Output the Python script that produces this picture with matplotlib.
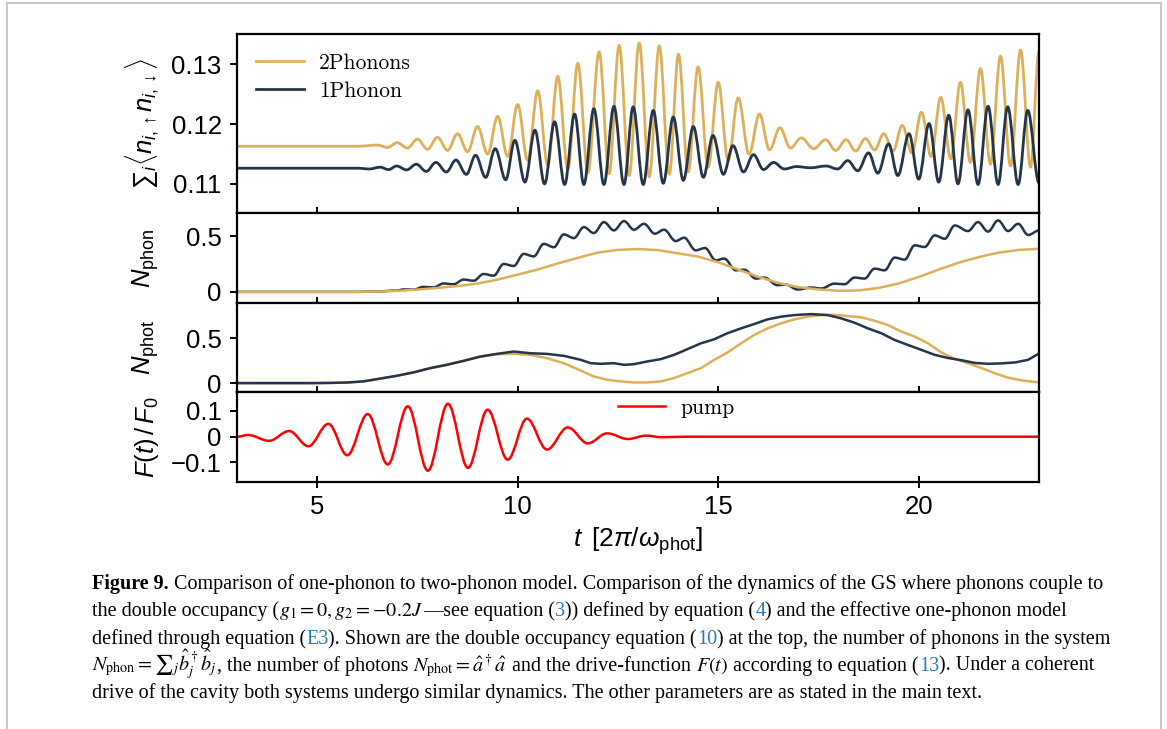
import matplotlib
matplotlib.use('agg')
import matplotlib.pyplot as plt
from matplotlib.path import Path
from matplotlib.patches import PathPatch
from matplotlib.lines import Line2D
from matplotlib.transforms import IdentityTransform
from matplotlib.font_manager import FontProperties

plt.rcParams['font.family'] = ['Liberation Sans', 'DejaVu Sans']
plt.rcParams['mathtext.fontset'] = 'custom'
plt.rcParams['mathtext.rm'] = 'Liberation Sans'
plt.rcParams['mathtext.it'] = 'Liberation Sans:italic'
plt.rcParams['mathtext.bf'] = 'Liberation Sans:bold'
plt.rcParams['mathtext.sf'] = 'Liberation Sans'

GOLD = '#DCB05A'
NAVY = '#24354A'

# --- double occupancy, peaks/troughs ---
t_docc_2ph = [3.0, 6.0, 6.5, 6.75, 7.0, 7.25, 7.5, 7.75, 8.0, 8.25, 8.5, 8.75, 9.0, 9.25,
              9.5, 9.75, 10.0, 10.25, 10.5, 10.75, 11.0, 11.25, 11.5, 11.75, 12.03, 12.28,
              12.53, 12.78, 13.03, 13.28, 13.53, 13.78, 14.01, 14.25, 14.5, 14.75, 15.0,
              15.25, 15.5, 15.77, 16.03, 16.28, 16.54, 16.8, 17.07, 17.38, 17.68, 17.93,
              18.19, 18.43, 18.67, 18.9, 19.13, 19.36, 19.59, 19.83, 20.07, 20.31, 20.55,
              20.8, 21.04, 21.29, 21.54, 21.79, 22.04, 22.29, 22.54, 22.79, 23.0]
docc_2ph = [0.1163, 0.1163, 0.1165, 0.1161, 0.1169, 0.1160, 0.1175, 0.1158, 0.1178, 0.1156,
            0.1184, 0.1154, 0.1196, 0.1150, 0.1213, 0.1146, 0.1233, 0.1139, 0.1256, 0.1131,
            0.1280, 0.1124, 0.1302, 0.1119, 0.1321, 0.1117, 0.1332, 0.1114, 0.1336, 0.1112,
            0.1331, 0.1116, 0.1317, 0.1120, 0.1296, 0.1128, 0.1270, 0.1139, 0.1244, 0.1150,
            0.1217, 0.1157, 0.1194, 0.1160, 0.1177, 0.1159, 0.1174, 0.1156, 0.1174, 0.1155,
            0.1176, 0.1157, 0.1184, 0.1155, 0.1198, 0.1152, 0.1220, 0.1146, 0.1245, 0.1142,
            0.1270, 0.1136, 0.1293, 0.1133, 0.1314, 0.1130, 0.1324, 0.1128, 0.1322]

t_docc_1ph = [3.0, 6.0, 6.3, 6.57, 6.78, 6.98, 7.23, 7.47, 7.72, 7.96, 8.22, 8.46, 8.72, 8.95,
              9.2, 9.44, 9.7, 9.93, 10.18, 10.43, 10.67, 10.92, 11.17, 11.42, 11.65, 11.9,
              12.15, 12.4, 12.65, 12.88, 13.13, 13.38, 13.63, 13.88, 14.13, 14.38, 14.63,
              14.87, 15.13, 15.37, 15.63, 15.88, 16.13, 16.38, 16.65, 16.95, 17.3, 17.69,
              17.98, 18.23, 18.48, 18.75, 18.98, 19.25, 19.48, 19.76, 20.0, 20.26, 20.5,
              20.75, 20.98, 21.23, 21.48, 21.73, 21.98, 22.22, 22.48, 22.72, 23.0]
docc_1ph = [0.11263, 0.11263, 0.1125, 0.1128, 0.1124, 0.1130, 0.11235, 0.1133, 0.1121,
            0.1136, 0.1120, 0.1140, 0.1116, 0.1148, 0.1111, 0.1159, 0.1107, 0.1173, 0.1103,
            0.1190, 0.1100, 0.1204, 0.1099, 0.1217, 0.1099, 0.1226, 0.1099, 0.1230, 0.1099,
            0.1229, 0.1099, 0.1223, 0.1101, 0.1212, 0.1106, 0.1196, 0.1111, 0.1181, 0.1116,
            0.1164, 0.1120, 0.1149, 0.1124, 0.1136, 0.1125, 0.1129, 0.1127, 0.1130, 0.1125,
            0.1139, 0.1122, 0.1152, 0.1118, 0.1167, 0.1114, 0.1184, 0.1108, 0.1201, 0.1103,
            0.1215, 0.1100, 0.1224, 0.1099, 0.1230, 0.1099, 0.1229, 0.1099, 0.1223, 0.1102]

# --- phonon number ---
t_phon_1ph = [3.0, 6.0, 6.5, 7.0, 7.15, 7.4, 7.65, 7.9, 8.15, 8.4, 8.65, 8.9, 9.15, 9.4, 9.65,
              9.9, 10.15, 10.4, 10.65, 10.9, 11.15, 11.4, 11.65, 11.9, 12.15, 12.4, 12.65,
              12.9, 13.15, 13.42, 13.65, 13.94, 14.15, 14.44, 14.67, 14.94, 15.15, 15.44,
              15.65, 15.94, 16.15, 16.48, 16.69, 16.98, 17.32, 17.57, 17.9, 18.15, 18.4,
              18.65, 18.9, 19.15, 19.4, 19.65, 19.9, 20.15, 20.4, 20.65, 20.9, 21.23, 21.48,
              21.73, 21.98, 22.23, 22.48, 22.73, 23.0]
phon_1ph = [0, 0, 0.004, 0.012, 0.022, 0.02, 0.045, 0.04, 0.075, 0.068, 0.11, 0.1, 0.16,
            0.145, 0.25, 0.232, 0.34, 0.318, 0.43, 0.40, 0.515, 0.482, 0.58, 0.527, 0.625,
            0.551, 0.634, 0.557, 0.61, 0.521, 0.557, 0.455, 0.485, 0.372, 0.393, 0.283,
            0.298, 0.193, 0.199, 0.119, 0.128, 0.06, 0.065, 0.021, 0.039, 0.03, 0.074,
            0.068, 0.128, 0.119, 0.208, 0.193, 0.307, 0.289, 0.417, 0.402, 0.506, 0.476,
            0.595, 0.545, 0.625, 0.54, 0.64, 0.545, 0.61, 0.51, 0.55]

t_phon_2ph = [3.0, 6.0, 6.5, 7.0, 7.5, 8.0, 8.5, 9.0, 9.5, 10.0, 10.5, 11.0, 11.5, 12.0, 12.5,
              13.0, 13.5, 14.0, 14.5, 15.0, 15.5, 16.0, 16.5, 17.0, 17.5, 18.0, 18.5, 19.0,
              19.5, 20.0, 20.5, 21.0, 21.5, 22.0, 22.5, 23.0]
phon_2ph = [0, 0, 0.003, 0.009, 0.02, 0.035, 0.052, 0.075, 0.11, 0.155, 0.2, 0.255, 0.305,
            0.352, 0.376, 0.384, 0.374, 0.345, 0.316, 0.265, 0.2, 0.135, 0.08, 0.042, 0.022,
            0.01, 0.013, 0.035, 0.075, 0.133, 0.2, 0.262, 0.312, 0.352, 0.376, 0.386]

# --- photon number ---
t_phot_1ph = [3.0, 5.0, 5.32, 5.73, 6.15, 6.65, 6.98, 7.4, 7.82, 8.23, 8.65, 9.07, 9.48, 9.9,
              10.32, 10.73, 11.15, 11.57, 11.82, 12.07, 12.4, 12.65, 12.9, 13.23, 13.57,
              13.9, 14.23, 14.57, 14.9, 15.23, 15.57, 15.9, 16.23, 16.57, 16.9, 17.32,
              17.73, 18.07, 18.4, 18.73, 19.07, 19.4, 19.73, 20.07, 20.4, 20.73, 21.07,
              21.4, 21.73, 22.07, 22.4, 22.73, 23.0]
phot_1ph = [0, 0, 0.002, 0.006, 0.019, 0.056, 0.081, 0.119, 0.167, 0.204, 0.248, 0.296,
            0.326, 0.352, 0.333, 0.326, 0.304, 0.26, 0.222, 0.215, 0.222, 0.204, 0.211,
            0.241, 0.267, 0.315, 0.378, 0.444, 0.489, 0.556, 0.611, 0.659, 0.711, 0.741,
            0.759, 0.77, 0.759, 0.722, 0.674, 0.611, 0.556, 0.481, 0.426, 0.37, 0.315,
            0.28, 0.255, 0.225, 0.215, 0.22, 0.23, 0.26, 0.33]

t_phot_2ph = [3.0, 5.0, 5.32, 5.73, 6.15, 6.65, 6.98, 7.4, 7.82, 8.23, 8.65, 9.07, 9.48, 9.9,
              10.32, 10.73, 11.15, 11.57, 11.9, 12.23, 12.57, 12.9, 13.23, 13.57, 13.9,
              14.23, 14.57, 14.9, 15.23, 15.57, 15.9, 16.23, 16.57, 16.9, 17.23, 17.57,
              17.9, 18.23, 18.57, 18.9, 19.23, 19.57, 19.9, 20.23, 20.57, 20.9, 21.23,
              21.57, 21.9, 22.23, 22.57, 23.0]
phot_2ph = [0, 0, 0.002, 0.006, 0.019, 0.056, 0.081, 0.119, 0.167, 0.204, 0.248, 0.296,
            0.322, 0.326, 0.315, 0.278, 0.222, 0.14, 0.074, 0.037, 0.019, 0.007, 0.007,
            0.019, 0.056, 0.111, 0.167, 0.259, 0.341, 0.444, 0.537, 0.611, 0.667, 0.711,
            0.741, 0.759, 0.762, 0.748, 0.733, 0.696, 0.648, 0.574, 0.519, 0.444, 0.341,
            0.27, 0.222, 0.167, 0.11, 0.06, 0.03, 0.007]

# --- pump pulse, extrema ---
t_pump = [3.0, 3.28, 3.8, 4.3, 4.78, 5.28, 5.75, 6.26, 6.76, 7.26, 7.76, 8.26, 8.76, 9.25,
          9.75, 10.23, 10.73, 11.25, 11.75, 12.23, 12.75, 13.2, 13.6, 14.2, 23.0]
pump = [0.0, 0.0066, -0.016, 0.022, -0.037, 0.05, -0.072, 0.088, -0.108, 0.118, -0.132,
        0.128, -0.121, 0.105, -0.089, 0.07, -0.05, 0.036, -0.026, 0.013, -0.009, 0.004,
        -0.002, 0.0, 0.0]


def wavy(ax, t, v, color, lw):
    # smooth curve through the extrema, flat tangent at each node
    verts = [(t[0], v[0])]
    codes = [Path.MOVETO]
    for t0, v0, t1, v1 in zip(t[:-1], v[:-1], t[1:], v[1:]):
        d = 0.36 * (t1 - t0)
        verts += [(t0 + d, v0), (t1 - d, v1), (t1, v1)]
        codes += [Path.CURVE4] * 3
    ax.add_patch(PathPatch(Path(verts, codes), fill=False, edgecolor=color,
                           linewidth=lw, capstyle='round', joinstyle='round'))


fig = plt.figure(figsize=(11.67, 7.29), dpi=100)
gs = fig.add_gridspec(4, 1, height_ratios=[2, 1, 1, 1], hspace=0,
                      left=0.2031, right=0.8903, top=0.9534, bottom=0.3388)
axes = [fig.add_subplot(gs[i]) for i in range(4)]

wavy(axes[0], t_docc_2ph, docc_2ph, GOLD, 2.0)
wavy(axes[0], t_docc_1ph, docc_1ph, NAVY, 2.0)
axes[0].plot([], [], color=GOLD, lw=2.0, label='2Phonons')
axes[0].plot([], [], color=NAVY, lw=2.0, label='1Phonon')

axes[1].plot(t_phon_2ph, phon_2ph, color=GOLD, lw=1.8)
wavy(axes[1], t_phon_1ph, phon_1ph, NAVY, 1.8)

axes[2].plot(t_phot_2ph, phot_2ph, color=GOLD, lw=1.8)
axes[2].plot(t_phot_1ph, phot_1ph, color=NAVY, lw=1.8)

wavy(axes[3], t_pump, pump, 'red', 1.8)
axes[3].plot([], [], color='red', lw=1.8, label='pump')

ylims = [(0.1051, 0.1351), (-0.098, 0.705), (-0.104, 0.896), (-0.176, 0.172)]
yticks = [[0.11, 0.12, 0.13], [0, 0.5], [0, 0.5], [-0.1, 0, 0.1]]
ytlabels = [['0.11', '0.12', '0.13'], ['0', '0.5'], ['0', '0.5'], ['\u22120.1', '0', '0.1']]
ylabels = [r'${\sum}_i\langle n_{i,\uparrow}n_{i,\downarrow}\rangle$', r'$N_{\rm phon}$',
           r'$N_{\rm phot}$', r'$F(t)\,/\,F_0$']

FS = 18.5
for i, ax in enumerate(axes):
    ax.set_xlim(3, 23)
    ax.set_ylim(*ylims[i])
    ax.set_xticks([5, 10, 15, 20])
    ax.set_yticks(yticks[i])
    ax.set_yticklabels(ytlabels[i])
    ax.tick_params(axis='x', direction='inout', length=8, width=1.4, labelsize=FS, pad=5,
                   labelbottom=(i == 3))
    ax.tick_params(axis='y', direction='out', length=5, width=1.4, labelsize=FS, pad=6)
    for sp in ax.spines.values():
        sp.set_linewidth(1.6)
    ax.set_ylabel(ylabels[i], fontsize=FS)
    ax.yaxis.set_label_coords(-0.095, 0.5)

axes[3].set_xlabel(r'$t\ \,[2\pi/\omega_{\rm phot}]$', fontsize=FS + 0.5, labelpad=5)

leg_font = FontProperties(family='cmr10', size=15.5)
axes[0].legend(loc='upper left', frameon=False, prop=leg_font, handlelength=2.2,
               labelspacing=0.4, handletextpad=0.7)
axes[3].legend(loc='upper left', bbox_to_anchor=(0.451, 1.15), frameon=False,
               prop=leg_font, handlelength=2.2, handletextpad=0.7)

# page frame
for xs, ys in [([7, 7], [0, 726]), ([7, 1161], [726, 726]), ([1161, 1161], [0, 726])]:
    fig.add_artist(Line2D(xs, ys, transform=IdentityTransform(), color='#c8c8c8', lw=1.5))

# caption
LINK = '#2a7ab8'
caption = [
    [('Figure 9.', 'b'), (' Comparison of one-phonon to two-phonon model. Comparison of the '
                          'dynamics of the GS where phonons couple to', 'n')],
    [('the double occupancy (', 'n'), (r'$g_1 = 0, g_2 = -0.2J$', 'm'),
     ('\u2014see equation (', 'n'), ('3', 'l'), (')) defined by equation (', 'n'),
     ('4', 'l'), (') and the effective one-phonon model', 'n')],
    [('defined through equation (', 'n'), ('E3', 'l'),
     ('). Shown are the double occupancy equation (', 'n'), ('10', 'l'),
     (') at the top, the number of phonons in the system', 'n')],
    [(r'$N_{\rm phon} = {\sum}_j \hat{b}_j^\dagger \hat{b}_j$', 'm'),
     (', the number of photons ', 'n'), (r'$N_{\rm phot} = \hat{a}^\dagger \hat{a}$', 'm'),
     (' and the drive-function ', 'n'), (r'$F(t)$', 'm'), (' according to equation (', 'n'),
     ('13', 'l'), ('). Under a coherent', 'n')],
    [('drive of the cavity both systems undergo similar dynamics. The other parameters are '
      'as stated in the main text.', 'n')],
]

renderer = fig.canvas.get_renderer()


def caption_line(tokens, x0, y0, size):
    made = []
    x = x0
    space = 0.25 * size * 100 / 72
    for s, kind in tokens:
        lead = len(s) - len(s.lstrip(' '))
        trail = len(s) - len(s.rstrip(' '))
        x += lead * space
        kw = dict(transform=IdentityTransform(), fontsize=size, va='baseline', ha='left',
                  family='Liberation Serif', color='black')
        if kind == 'b':
            kw['weight'] = 'bold'
        if kind == 'l':
            kw['color'] = LINK
        if kind == 'm':
            kw['math_fontfamily'] = 'stix'
        txt = fig.text(x, y0, s.strip(' '), **kw)
        made.append(txt)
        x = txt.get_window_extent(renderer).x1 + trail * space
    return x, made


# fit the font size to the first caption line
end, tmp = caption_line(caption[0], 92, 729 - 589, 14.0)
for t in tmp:
    t.remove()
cap_size = 14.0 * (1113 - 92) / (end - 92)
for k, line in enumerate(caption):
    caption_line(line, 92, 729 - (589 + 27.3 * k), cap_size)

fig.savefig('out.png', dpi=100)
